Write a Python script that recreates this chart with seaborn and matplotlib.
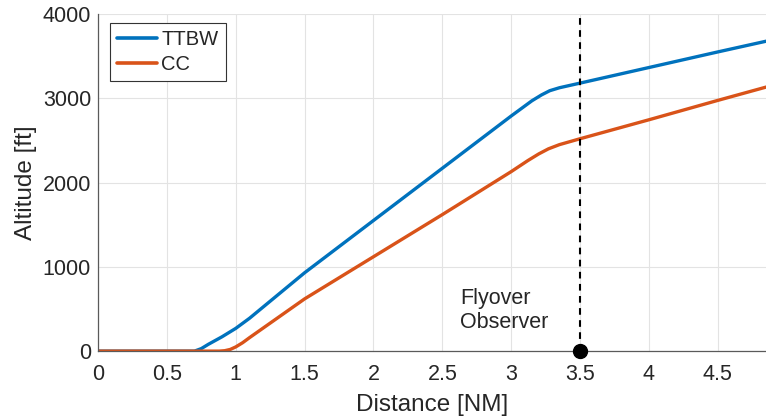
import numpy as np
import pandas as pd
import matplotlib
matplotlib.use("Agg")
import matplotlib.pyplot as plt
import seaborn as sns
from matplotlib.ticker import FuncFormatter

# Data
ttbw_x = [0, 0.70, 0.75, 0.80, 0.90, 1.00, 1.10, 1.5, 2.0, 2.5, 3.0, 3.15, 3.22, 3.28, 3.35, 3.5, 4.0, 4.5, 4.9]
ttbw_y = [0, 0, 30, 80, 170, 270, 390, 930, 1550, 2170, 2790, 2970, 3040, 3090, 3125, 3180, 3365, 3550, 3695]
cc_x = [0, 0.88, 0.92, 0.96, 1.0, 1.05, 1.1, 1.5, 2.0, 2.5, 3.0, 3.12, 3.2, 3.27, 3.35, 3.5, 4.0, 4.5, 4.9]
cc_y = [0, 0, 5, 20, 50, 100, 160, 620, 1120, 1620, 2130, 2260, 2340, 2400, 2450, 2520, 2745, 2975, 3155]
series_names = ["TTBW", "CC"]
observer_x = 3.5
observer_label = "Flyover\nObserver"
x_ticks = [0, 0.5, 1, 1.5, 2, 2.5, 3, 3.5, 4, 4.5]
y_ticks = [0, 1000, 2000, 3000, 4000]

df = pd.concat([
    pd.DataFrame({"Distance": ttbw_x, "Altitude": ttbw_y, "Config": series_names[0]}),
    pd.DataFrame({"Distance": cc_x, "Altitude": cc_y, "Config": series_names[1]}),
])

sns.set_style("white")
plt.rcParams["font.family"] = ["Liberation Sans", "DejaVu Sans"]

fig = plt.figure(figsize=(7.66, 4.18), dpi=100)
ax = fig.add_axes([0.128, 0.160, 0.872, 0.8065])

axis_col = "#262626"
ax.grid(True, color="#e3e3e3", linewidth=0.8)
ax.set_axisbelow(True)

sns.lineplot(data=df, x="Distance", y="Altitude", hue="Config",
             palette=["#0072BD", "#D95319"], linewidth=2.4, ax=ax,
             sort=False, estimator=None)

ax.plot([observer_x, observer_x], [0, 4000], color="black", linestyle=(0, (3.2, 2.6)),
        linewidth=1.5, zorder=4, clip_on=False)
ax.plot([observer_x], [0], marker="o", color="black", markersize=10, zorder=6, clip_on=False)
ax.text(2.63, 480, observer_label, fontsize=15.5, color=axis_col, ha="left", va="center",
        linespacing=1.2)

ax.set_xlim(0, 4.85)
ax.set_ylim(0, 4000)
ax.set_xticks(x_ticks)
ax.set_yticks(y_ticks)
ax.xaxis.set_major_formatter(FuncFormatter(lambda v, p: f"{v:g}"))
ax.tick_params(direction="in", length=5, width=0.8, colors=axis_col, labelsize=15.5,
               labelcolor=axis_col)
ax.tick_params(axis="x", pad=9)
ax.tick_params(axis="y", pad=5)
for s in ["top", "right"]:
    ax.spines[s].set_visible(False)
for s in ["left", "bottom"]:
    ax.spines[s].set_color("#5a5a5a")
    ax.spines[s].set_linewidth(0.9)

ax.set_xlabel("Distance [NM]", fontsize=17.5, color=axis_col, labelpad=7)
ax.set_ylabel("Altitude [ft]", fontsize=17.5, color=axis_col, labelpad=4)

leg = ax.legend(loc="upper left", bbox_to_anchor=(0.018, 0.973), fontsize=14.5,
                frameon=True, fancybox=False, edgecolor="#333333", framealpha=1,
                handlelength=2.0, handletextpad=0.2, borderpad=0.35, labelspacing=0.3,
                borderaxespad=0)
leg.get_frame().set_linewidth(0.8)
for l in leg.get_lines():
    l.set_linewidth(2.6)

fig.savefig("out.png", dpi=100)
